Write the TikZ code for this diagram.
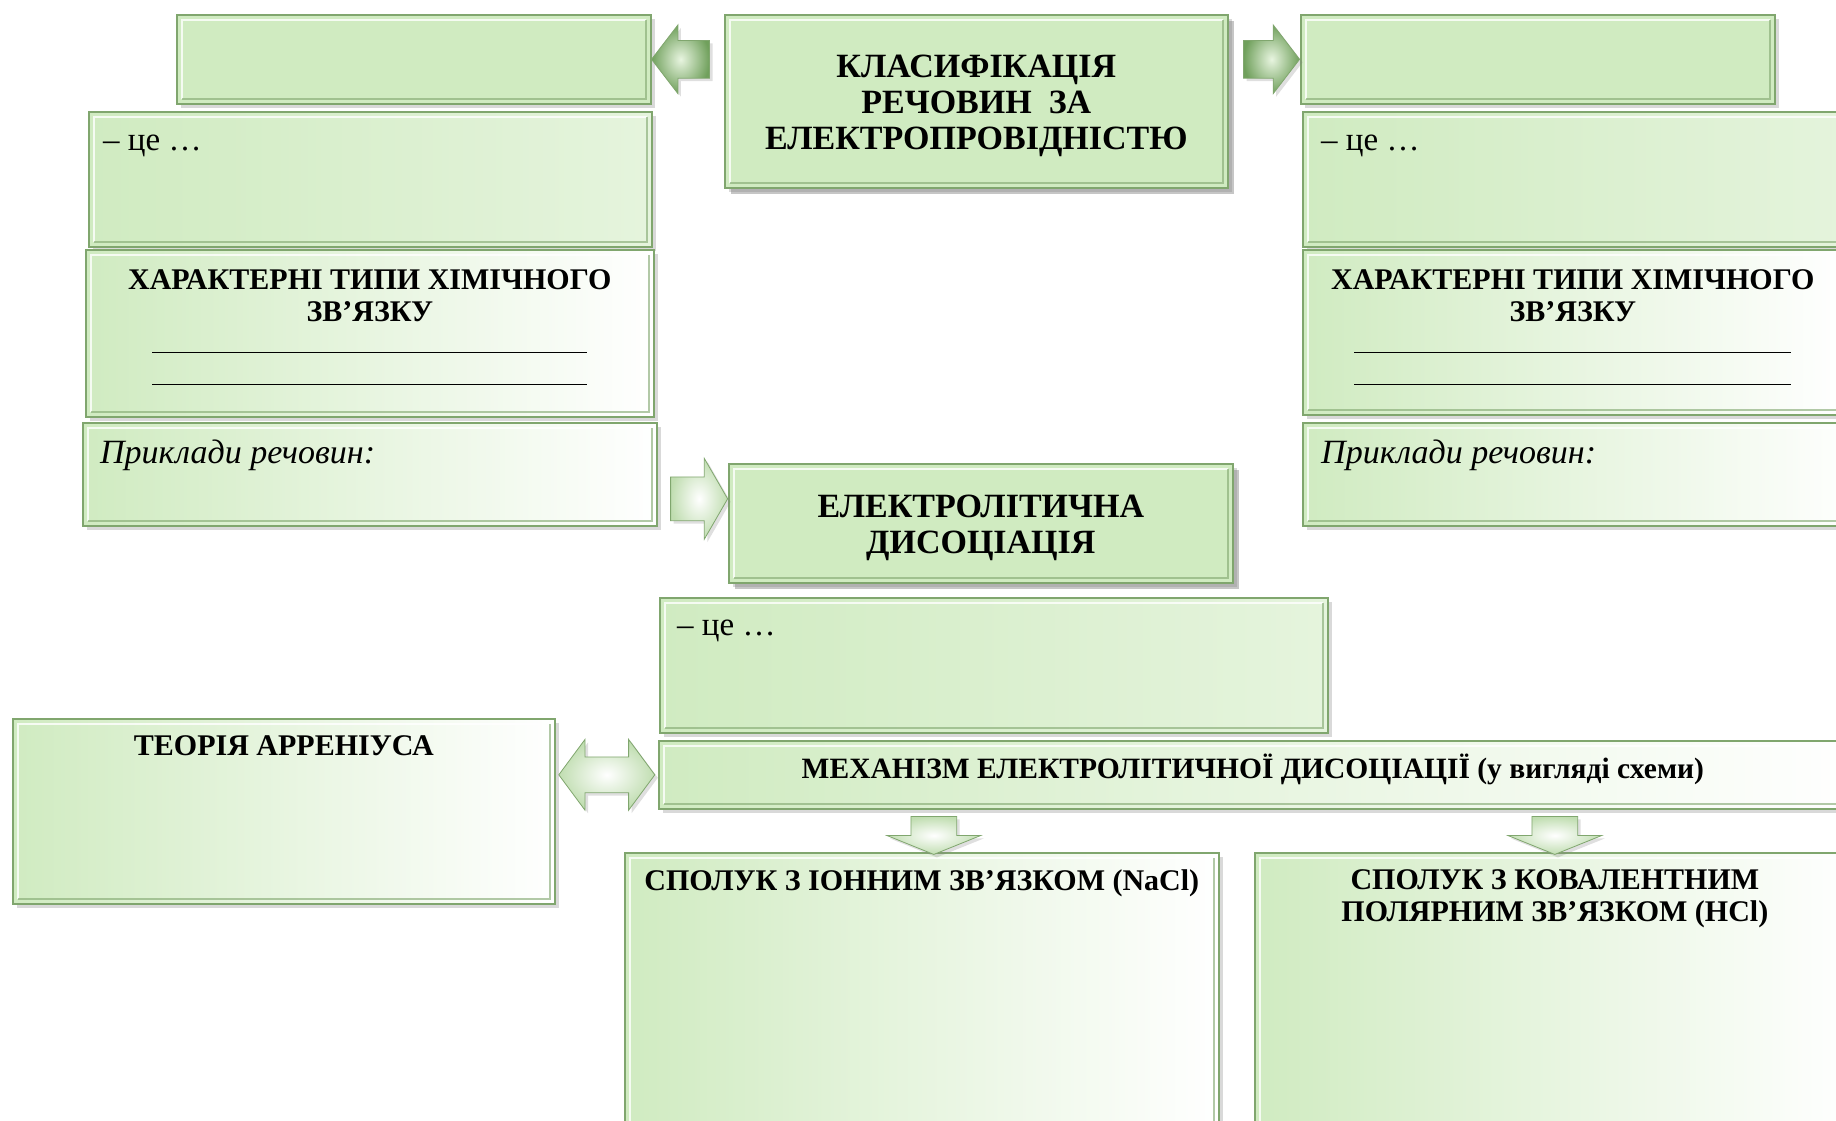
\documentclass[tikz,border=0pt]{standalone}
\usepackage{fontspec}
\setmainfont{Liberation Serif}
\usetikzlibrary{shapes.arrows,shadows,calc,positioning}

\definecolor{boxgreen}{RGB}{208,235,193}
\definecolor{edgegreen}{RGB}{128,166,110}
\definecolor{arrowdark}{RGB}{112,160,92}
\definecolor{arrowlight}{RGB}{232,245,224}

\newcommand{\titlefnt}{\fontsize{34}{36}\selectfont\bfseries}
\newcommand{\headfnt}{\fontsize{30}{32}\selectfont\bfseries}
\newcommand{\entryfnt}{\fontsize{33}{36}\selectfont}
\newcommand{\notefnt}{\fontsize{34}{38}\selectfont\itshape}

\begin{document}
\begin{tikzpicture}[x=1pt,y=1pt,
  every node/.style={inner sep=0pt},
  cell/.style={rectangle, anchor=north west, draw=edgegreen, line width=1.6pt,
    drop shadow={shadow xshift=4pt, shadow yshift=-4pt, opacity=0.3},
    path picture={
      \draw[white, opacity=0.8, line width=2.5pt]
        ([shift={(5pt,5pt)}]path picture bounding box.south west)
        |- ([shift={(-5pt,-5pt)}]path picture bounding box.north east);
      \draw[edgegreen, opacity=0.6, line width=2.5pt]
        ([shift={(5pt,5pt)}]path picture bounding box.south west)
        -| ([shift={(-5pt,-5pt)}]path picture bounding box.north east);}},
  plain/.style={cell, fill=boxgreen},
  raised/.style={cell, fill=boxgreen,
    drop shadow={shadow xshift=6pt, shadow yshift=-6pt, opacity=0.45}},
  soft/.style={cell, left color=boxgreen, right color=boxgreen!55!white},
  fade/.style={cell, left color=boxgreen, middle color=boxgreen!40!white, right color=white},
  head/.style={font=\headfnt, align=center},
  entry/.style={font=\entryfnt, anchor=west},
  note/.style={font=\notefnt, anchor=west},
  pointer/.style={draw=edgegreen, line width=0.8pt, inner color=arrowlight, outer color=arrowdark,
    drop shadow={shadow xshift=3pt, shadow yshift=-3pt, opacity=0.25}},
  pale/.style={inner color=white, outer color=boxgreen!80!edgegreen}]
\useasboundingbox (0,0) rectangle (1836,-1120);

% top row
\node[plain, minimum width=474pt, minimum height=89pt] (topL) at (176,-14) {};
\node[raised, minimum width=503pt, minimum height=173pt] (title) at (724,-14) {};
\node[plain, minimum width=474pt, minimum height=89pt] (topR) at (1300,-14) {};
\node[head, font=\titlefnt] (titleT) at ([yshift=-5]title.center) {КЛАСИФІКАЦІЯ\\РЕЧОВИН\ \ ЗА\\ЕЛЕКТРОПРОВІДНІСТЮ};

\node[pointer, single arrow, rotate=180, minimum height=58pt, minimum width=68pt, inner ysep=18.5pt,
  single arrow head extend=15.5pt, single arrow tip angle=105]
  (arrL) at ($(topL.east)!0.5!(topL.east -| title.west)$) {};
\node[pointer, single arrow, minimum height=56pt, minimum width=68pt, inner ysep=18.5pt,
  single arrow head extend=15.5pt, single arrow tip angle=105]
  (arrR) at ($(title.east |- topR.west)!0.5!(topR.west)$) {};

% left column
\node[soft, minimum width=563pt, minimum height=135pt] (ceL) at (88,-111) {};
\node[fade, minimum width=568pt, minimum height=167pt] (typL) at (85,-249) {};
\node[fade, minimum width=574pt, minimum height=103pt] (exL) at (82,-422) {};
\node[entry] (ceLt) at ([shift={(15,-35)}]ceL.north west) {– це …};
\node[head, anchor=north] (typLt) at ([yshift=-20]typL.north)
  {ХАРАКТЕРНІ ТИПИ ХІМІЧНОГО\\ЗВ’ЯЗКУ\\\rule{435pt}{1pt}\\\rule{435pt}{1pt}};
\node[note] (exLt) at ([shift={(18,-33)}]exL.north west) {Приклади речовин:};

% right column
\node[soft, minimum width=560pt, minimum height=135pt] (ceR) at (1302,-111) {};
\node[fade, minimum width=540pt, minimum height=165pt] (typR) at (1302,-249) {};
\node[fade, minimum width=560pt, minimum height=103pt] (exR) at (1302,-422) {};
\node[entry] (ceRt) at ([shift={(19,-35)}]ceR.north west) {– це …};
\node[head, anchor=north] (typRt) at ([yshift=-20]typR.north)
  {ХАРАКТЕРНІ ТИПИ ХІМІЧНОГО\\ЗВ’ЯЗКУ\\\rule{437pt}{1pt}\\\rule{437pt}{1pt}};
\node[note] (exRt) at ([shift={(19,-33)}]exR.north west) {Приклади речовин:};

% dissociation
\node[raised, minimum width=504pt, minimum height=119pt] (ed) at (728,-463) {};
\node[head, font=\titlefnt] (edT) at ([yshift=-5]ed.center) {ЕЛЕКТРОЛІТИЧНА\\ДИСОЦІАЦІЯ};
\node[pointer, pale, single arrow, minimum height=57pt, minimum width=80pt, inner ysep=21.5pt,
  single arrow head extend=18.5pt, single arrow tip angle=120]
  (arrE) at ($(exL.east)!0.5!(ed.west)$) {};
\node[soft, minimum width=668pt, minimum height=135pt] (ceM) at (659,-597) {};
\node[entry] (ceMt) at ([shift={(18,-34)}]ceM.north west) {– це …};

% mechanism
\node[fade, minimum width=542pt, minimum height=185pt] (arrh) at (12,-718) {};
\node[head, anchor=north] (arrhT) at ([yshift=-17]arrh.north) {ТЕОРІЯ АРРЕНІУСА};
\node[fade, minimum width=1200pt, minimum height=68pt] (mech) at (658,-740) {};
\node[head, font=\fontsize{29.5}{32}\selectfont\bfseries] (mechT) at ([shift={(-6,5)}]mech.center)
  {МЕХАНІЗМ ЕЛЕКТРОЛІТИЧНОЇ ДИСОЦІАЦІЇ (у вигляді схеми)};
\node[pointer, pale, double arrow, minimum height=96pt, minimum width=70pt, inner ysep=17.5pt,
  double arrow head extend=17.5pt, double arrow tip angle=107]
  (dbl) at ($(arrh.east |- mech.west)!0.5!(mech.west)$) {};

\node[fade, minimum width=594pt, minimum height=300pt] (ion) at (624,-852) {};
\node[fade, minimum width=600pt, minimum height=300pt] (cov) at (1254,-852) {};
\node[head, anchor=north] (ionT) at ([yshift=-17]ion.north) {СПОЛУК З ІОННИМ ЗВ’ЯЗКОМ (NaCl)};
\node[head, anchor=north] (covT) at ([yshift=-17]cov.north) {СПОЛУК З КОВАЛЕНТНИМ\\ПОЛЯРНИМ ЗВ’ЯЗКОМ (HCl)};

\node[pointer, pale, single arrow, rotate=-90, minimum height=38pt, minimum width=93pt, inner ysep=22.5pt,
  single arrow head extend=24pt, single arrow tip angle=136]
  (dn1) at ($([xshift=12]ion.north)!0.5!([xshift=12]ion.north |- mech.south)$) {};
\node[pointer, pale, single arrow, rotate=-90, minimum height=38pt, minimum width=93pt, inner ysep=22.5pt,
  single arrow head extend=24pt, single arrow tip angle=136]
  (dn2) at ($(cov.north)!0.5!(cov.north |- mech.south)$) {};
\end{tikzpicture}
\end{document}
